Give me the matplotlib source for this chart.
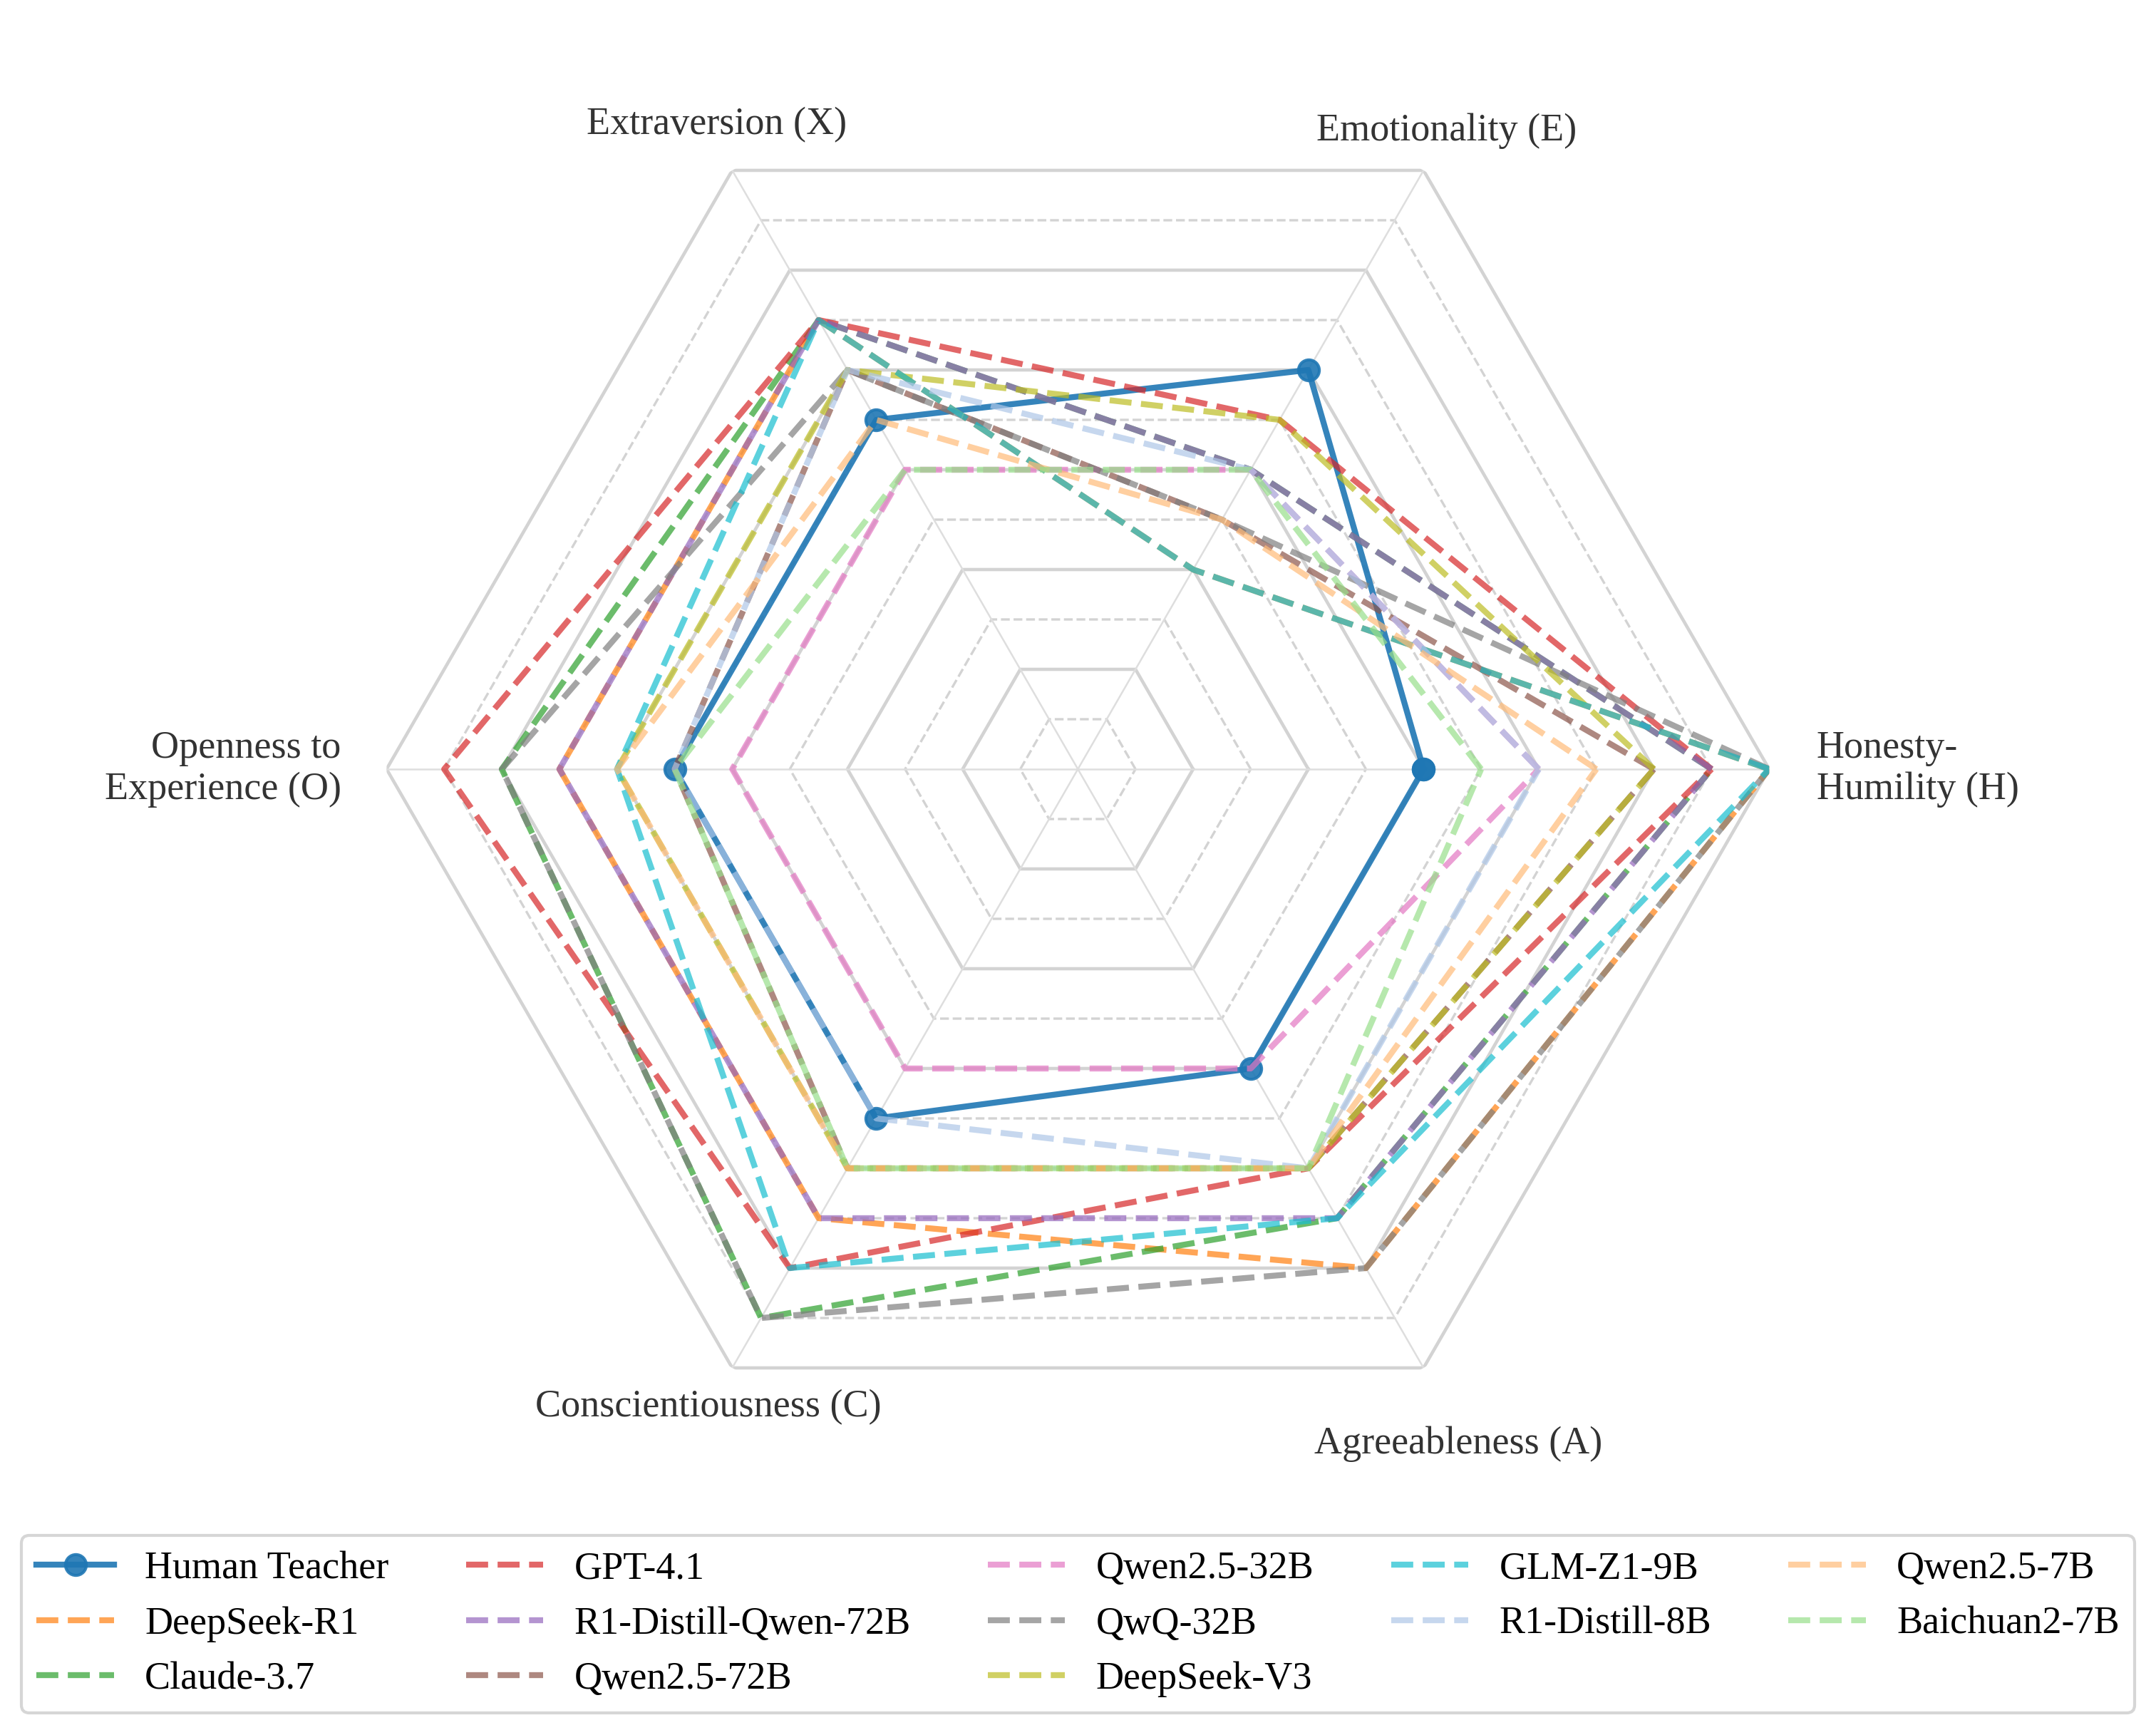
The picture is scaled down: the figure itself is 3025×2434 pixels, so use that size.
import numpy as np
import matplotlib
matplotlib.use('Agg')
from matplotlib import pyplot as plt

plt.rcParams['font.family'] = 'serif'
plt.rcParams['font.serif'] = ['Liberation Serif', 'DejaVu Serif']

# HEXACO dimensions, counter-clockwise starting at 3 o'clock
dimensions = ['Honesty-\nHumility (H)', 'Emotionality (E)', 'Extraversion (X)',
              'Openness to\nExperience (O)', 'Conscientiousness (C)', 'Agreeableness (A)']

models = ['Human Teacher', 'DeepSeek-R1', 'Claude-3.7', 'GPT-4.1', 'R1-Distill-Qwen-72B',
          'Qwen2.5-72B', 'Qwen2.5-32B', 'QwQ-32B', 'DeepSeek-V3', 'GLM-Z1-9B',
          'R1-Distill-8B', 'Qwen2.5-7B', 'Baichuan2-7B']

# scores in order H, E, X, O, C, A
human_teacher = [6, 8, 7, 7, 7, 6]
deepseek_r1 = [12, 4, 9, 9, 9, 10]
claude_37 = [11, 6, 9, 10, 11, 9]
gpt_41 = [11, 7, 9, 11, 10, 8]
r1_distill_qwen_72b = [11, 6, 9, 9, 9, 9]
qwen25_72b = [10, 5, 8, 7, 8, 8]
qwen25_32b = [8, 6, 6, 6, 6, 6]
qwq_32b = [12, 5, 8, 10, 11, 10]
deepseek_v3 = [10, 7, 8, 8, 8, 8]
glm_z1_9b = [12, 4, 9, 8, 10, 9]
r1_distill_8b = [8, 6, 8, 7, 7, 8]
qwen25_7b = [9, 5, 7, 8, 8, 8]
baichuan2_7b = [7, 6, 6, 7, 8, 8]

scores = [human_teacher, deepseek_r1, claude_37, gpt_41, r1_distill_qwen_72b, qwen25_72b,
          qwen25_32b, qwq_32b, deepseek_v3, glm_z1_9b, r1_distill_8b, qwen25_7b, baichuan2_7b]

colors = ['#1f77b4', '#ff7f0e', '#2ca02c', '#d62728', '#9467bd', '#8c564b', '#e377c2',
          '#7f7f7f', '#bcbd22', '#17becf', '#aec7e8', '#ffbb78', '#98df8a']

max_level = 12

angles = np.linspace(0, 2 * np.pi, len(dimensions), endpoint=False)
closed = np.append(angles, angles[0])

fig = plt.figure(figsize=(3025 / 300, 2434 / 300))
ax = fig.add_axes([0.1793, 0.1582, 0.6413, 0.7970], projection='polar')

# hexagon grid: solid on even levels, dashed on odd ones
for lvl in range(1, max_level + 1):
    if lvl % 2 == 0:
        ax.plot(closed, [lvl] * len(closed), color='#d3d3d3', lw=1.1, ls='-', zorder=0)
    else:
        ax.plot(closed, [lvl] * len(closed), color='#d3d3d3', lw=0.8, ls='--', zorder=0)
for a in angles:
    ax.plot([a, a], [0, max_level], color='#dedede', lw=0.6, zorder=0)

for name, vals, c in zip(models, scores, colors):
    v = vals + vals[:1]
    if name == 'Human Teacher':
        ax.plot(closed, v, color=c, lw=2, marker='o', ms=7, alpha=0.9, label=name)
    else:
        ax.plot(closed, v, color=c, lw=2, ls='--', alpha=0.7, label=name)

ax.set_ylim(0, max_level)
ax.set_xticks([])
ax.set_yticks([])
ax.grid(False)
ax.spines['polar'].set_visible(False)

# label placement (theta in degrees, radius, alignment)
label_pos = [(0, 12.82, 'left'), (60, 12.79, 'center'), (119.3, 12.82, 'center'),
             (180, 12.79, 'right'), (239.9, 12.8, 'center'), (299.4, 13.45, 'center')]
for txt, (th, r, ha) in zip(dimensions, label_pos):
    ax.text(np.deg2rad(th), r, txt, ha=ha, va='center', fontsize=13, color='#333333')

fig.legend(loc='lower center', bbox_to_anchor=(0.5, 0.0127), ncol=5, fontsize=13,
           borderaxespad=0)

fig.savefig('out.png', dpi=300)
